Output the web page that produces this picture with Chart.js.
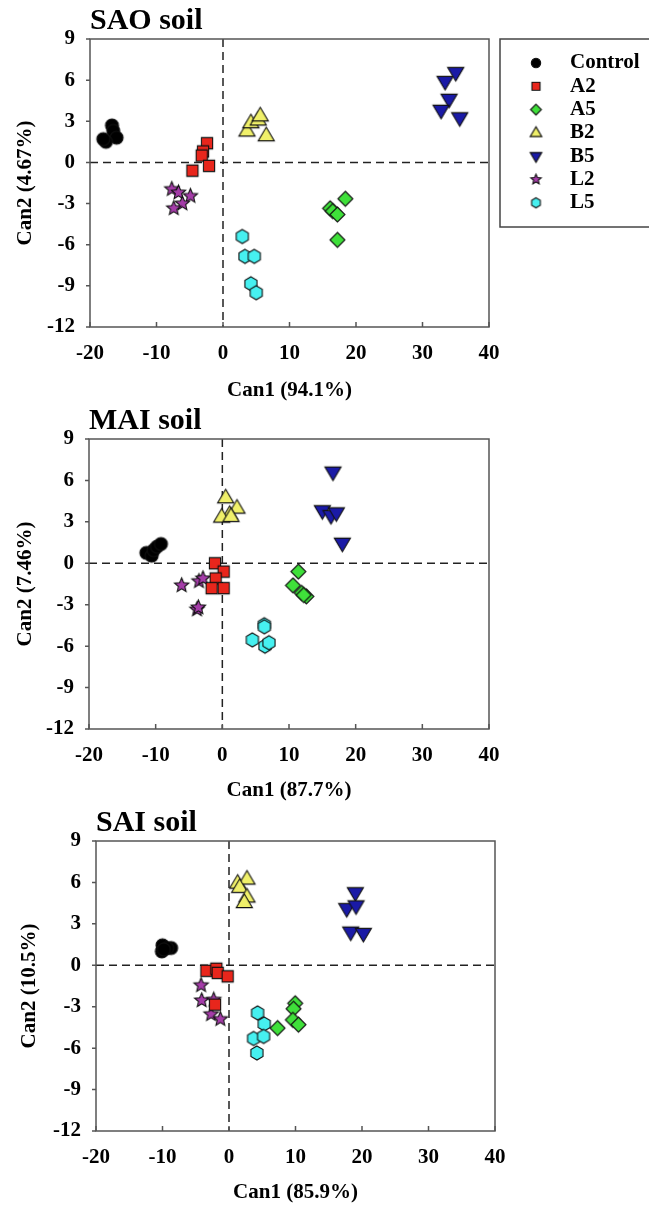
<!DOCTYPE html>
<html>
<head>
<meta charset="utf-8">
<script src="https://cdn.jsdelivr.net/npm/chart.js@4.4.1/dist/chart.umd.min.js"></script>
<style>
  body { margin: 0; background: #fff; width: 649px; height: 1205px; overflow: hidden; position: relative; }
  canvas { position: absolute; left: 0; }
</style>
</head>
<body>
<canvas id="sao" width="649" height="403" style="top:0"></canvas>
<canvas id="mai" width="649" height="400" style="top:403px"></canvas>
<canvas id="sai" width="649" height="402" style="top:803px"></canvas>
<script>
// groups and their marker look
const groups = ['Control', 'A2', 'A5', 'B2', 'B5', 'L2', 'L5'];
const shapes = ['circle', 'square', 'diamond', 'up', 'down', 'star', 'hex'];
const fills = ['#000000', '#e8261c', '#3fe03a', '#f0f06a', '#1a1aa6', '#a43ca8', '#46f0f0'];

// axis ticks
const xTicks = [-20, -10, 0, 10, 20, 30, 40];
const yTicks = [-12, -9, -6, -3, 0, 3, 6, 9];

// SAO soil  [Can1, Can2]
const saoControl = [[-16.7, 2.7], [-16.5, 2.3], [-16.0, 1.8], [-17.6, 1.5], [-18.0, 1.7]];
const saoA2 = [[-2.4, 1.4], [-3.0, 0.8], [-3.2, 0.5], [-2.1, -0.25], [-4.6, -0.6]];
const saoA5 = [[18.4, -2.65], [16.1, -3.35], [16.5, -3.55], [17.2, -3.8], [17.2, -5.65]];
const saoB2 = [[3.6, 2.3], [4.2, 2.9], [5.3, 3.1], [5.6, 3.4], [6.5, 1.95]];
const saoB5 = [[33.4, 5.9], [35.0, 6.55], [34.0, 4.6], [32.8, 3.8], [35.6, 3.25]];
const saoL2 = [[-7.7, -1.95], [-6.7, -2.2], [-4.9, -2.45], [-6.1, -3.0], [-7.4, -3.35]];
const saoL5 = [[2.9, -5.4], [3.3, -6.85], [4.7, -6.85], [4.2, -8.85], [5.0, -9.5]];

// MAI soil
const maiControl = [[-11.4, 0.75], [-10.6, 0.55], [-10.3, 0.95], [-9.8, 1.2], [-9.2, 1.4]];
const maiA2 = [[-1.1, 0.0], [0.2, -0.6], [-1.0, -1.1], [-1.6, -1.8], [0.2, -1.8]];
const maiA5 = [[11.4, -0.6], [10.6, -1.6], [11.9, -2.15], [12.6, -2.4], [12.2, -2.3]];
const maiB2 = [[0.5, 4.75], [2.2, 4.0], [1.1, 3.55], [-0.1, 3.35], [1.3, 3.4]];
const maiB5 = [[16.6, 6.6], [15.0, 3.8], [16.3, 3.45], [17.1, 3.65], [18.0, 1.45]];
const maiL2 = [[-6.1, -1.6], [-3.5, -1.3], [-2.9, -1.1], [-3.8, -3.35], [-3.6, -3.2]];
const maiL5 = [[6.3, -4.45], [6.3, -4.6], [4.5, -5.55], [6.4, -6.0], [7.0, -5.75]];

// SAI soil
const saiControl = [[-10.0, 1.45], [-10.1, 1.0], [-8.7, 1.25], [-9.3, 1.25], [-9.8, 1.15]];
const saiA2 = [[-3.4, -0.4], [-1.9, -0.25], [-1.7, -0.55], [-0.2, -0.8], [-2.1, -2.85]];
const saiA5 = [[9.95, -2.75], [9.7, -3.15], [9.6, -3.95], [10.45, -4.3], [7.3, -4.55]];
const saiB2 = [[1.3, 5.95], [2.7, 6.25], [1.6, 5.65], [2.7, 4.95], [2.3, 4.55]];
const saiB5 = [[19.0, 5.25], [17.7, 4.1], [19.1, 4.3], [18.3, 2.4], [20.2, 2.3]];
const saiL2 = [[-4.2, -1.45], [-4.1, -2.55], [-2.3, -2.5], [-2.7, -3.55], [-1.3, -3.9]];
const saiL5 = [[4.3, -3.45], [5.3, -4.25], [3.7, -5.3], [5.2, -5.15], [4.2, -6.35]];

const FONT = '"Liberation Serif", "Times New Roman", serif';

// small canvas used as point style
function marker(shape, fill, r) {
  const s = Math.ceil(r * 2 + 4);
  const c = document.createElement('canvas');
  c.width = c.height = s;
  const g = c.getContext('2d');
  const cx = s / 2, cy = s / 2;
  g.beginPath();
  if (shape === 'circle') {
    g.arc(cx, cy, r, 0, Math.PI * 2);
  } else if (shape === 'square') {
    const h = r * 0.8;
    g.rect(cx - h, cy - h, 2 * h, 2 * h);
  } else if (shape === 'diamond') {
    g.moveTo(cx, cy - r); g.lineTo(cx + r, cy); g.lineTo(cx, cy + r); g.lineTo(cx - r, cy);
    g.closePath();
  } else if (shape === 'up') {
    g.moveTo(cx, cy - r); g.lineTo(cx + r * 0.95, cy + r * 0.6); g.lineTo(cx - r * 0.95, cy + r * 0.6);
    g.closePath();
  } else if (shape === 'down') {
    g.moveTo(cx, cy + r); g.lineTo(cx + r * 0.95, cy - r * 0.6); g.lineTo(cx - r * 0.95, cy - r * 0.6);
    g.closePath();
  } else if (shape === 'star') {
    for (let i = 0; i < 10; i++) {
      const a = -Math.PI / 2 + i * Math.PI / 5;
      const rr = i % 2 ? r * 0.45 : r;
      g.lineTo(cx + rr * Math.cos(a), cy + rr * Math.sin(a));
    }
    g.closePath();
  } else if (shape === 'hex') {
    for (let i = 0; i < 6; i++) {
      const a = -Math.PI / 2 + i * Math.PI / 3;
      g.lineTo(cx + r * Math.cos(a), cy + r * Math.sin(a));
    }
    g.closePath();
  }
  g.fillStyle = fill;
  g.fill();
  g.lineWidth = 1.1;
  g.strokeStyle = '#111';
  g.stroke();
  return c;
}

const plotSizes = { circle: 6.5, square: 7, diamond: 7.5, up: 8.5, down: 8.5, star: 7.5, hex: 7 };
const plotMarkers = shapes.map((s, i) => marker(s, fills[i], plotSizes[s]));
const legendMarkers = shapes.map((s, i) => marker(s, fills[i], plotSizes[s] * 0.72));

// dashed zero lines, frame and tick marks
const framePlugin = {
  id: 'frame',
  beforeDatasetsDraw(chart) {
    const { ctx, chartArea: a, scales: { x, y } } = chart;
    ctx.save();
    ctx.strokeStyle = '#222';
    ctx.lineWidth = 1.5;
    ctx.setLineDash([8, 5]);
    const x0 = x.getPixelForValue(0), y0 = y.getPixelForValue(0);
    ctx.beginPath();
    ctx.moveTo(x0, a.top); ctx.lineTo(x0, a.bottom);
    ctx.moveTo(a.left, y0); ctx.lineTo(a.right, y0);
    ctx.stroke();
    ctx.setLineDash([]);
    ctx.strokeStyle = '#555';
    ctx.strokeRect(a.left, a.top, a.right - a.left, a.bottom - a.top);
    ctx.beginPath();
    x.ticks.forEach(t => {
      const px = x.getPixelForValue(t.value);
      ctx.moveTo(px, a.bottom); ctx.lineTo(px, a.bottom - 5);
    });
    y.ticks.forEach(t => {
      const py = y.getPixelForValue(t.value);
      ctx.moveTo(a.left - 4, py); ctx.lineTo(a.left, py);
    });
    ctx.stroke();
    ctx.restore();
  }
};

// boxed legend on the right of the first panel
const legendPlugin = {
  id: 'boxLegend',
  afterDraw(chart) {
    const ctx = chart.ctx;
    ctx.save();
    ctx.strokeStyle = '#444';
    ctx.lineWidth = 1.5;
    ctx.strokeRect(500, 39, 170, 188);
    ctx.font = 'bold 21px ' + FONT;
    ctx.fillStyle = '#000';
    ctx.textBaseline = 'middle';
    chart.data.datasets.forEach((ds, i) => {
      const yy = 63 + i * 23.3;
      const m = legendMarkers[i];
      ctx.drawImage(m, 536 - m.width / 2, yy - m.height / 2);
      ctx.fillText(ds.label, 570, yy);
    });
    ctx.restore();
  }
};

function makeChart(id, title, series, xTitle, yTitle, lay, withLegend) {
  const datasets = groups.map((g, i) => ({
    label: g,
    data: series[i].map(p => ({ x: p[0], y: p[1] })),
    pointStyle: plotMarkers[i],
    backgroundColor: fills[i],
    borderColor: '#111'
  }));
  const tickFont = { family: FONT, size: 21, weight: 'bold' };
  const titleFont = { family: FONT, size: 21, weight: 'bold' };
  return new Chart(document.getElementById(id), {
    type: 'scatter',
    data: { datasets },
    plugins: withLegend ? [framePlugin, legendPlugin] : [framePlugin],
    options: {
      responsive: false,
      animation: false,
      events: [],
      devicePixelRatio: 1,
      layout: { padding: { left: 0, right: lay.right, top: 0, bottom: 0 } },
      plugins: {
        legend: { display: false },
        tooltip: { enabled: false },
        title: {
          display: true, text: title, align: 'start', fullSize: false, color: '#000',
          font: { family: FONT, size: 30, weight: 'bold', lineHeight: 1.2 },
          padding: { top: lay.titleTop, bottom: 0 }
        }
      },
      scales: {
        x: {
          type: 'linear', min: -20, max: 40,
          afterBuildTicks: s => { s.ticks = xTicks.map(v => ({ value: v })); },
          ticks: { font: tickFont, color: '#000', padding: 14, maxRotation: 0 },
          grid: { display: false, drawTicks: false },
          border: { display: false },
          title: { display: true, text: xTitle, font: titleFont, color: '#000', padding: { top: 0, bottom: lay.xPad } },
          afterFit: s => { s.height = lay.xH; }
        },
        y: {
          type: 'linear', min: -12, max: 9,
          afterBuildTicks: s => { s.ticks = yTicks.map(v => ({ value: v })); },
          ticks: { font: tickFont, color: '#000', padding: 15 },
          grid: { display: false, drawTicks: false },
          border: { display: false },
          title: { display: true, text: yTitle, font: titleFont, color: '#000', padding: { top: lay.yPad, bottom: 0 } },
          afterFit: s => { s.width = lay.yW; }
        }
      }
    }
  });
}

makeChart('sao', 'SAO soil',
  [saoControl, saoA2, saoA5, saoB2, saoB5, saoL2, saoL5],
  'Can1 (94.1%)', 'Can2 (4.67%)',
  { right: 160, titleTop: 3, xH: 76, xPad: 0, yW: 90, yPad: 13 }, true);

makeChart('mai', 'MAI soil',
  [maiControl, maiA2, maiA5, maiB2, maiB5, maiL2, maiL5],
  'Can1 (87.7%)', 'Can2 (7.46%)',
  { right: 160, titleTop: 0, xH: 74, xPad: 0, yW: 89, yPad: 13 }, false);

makeChart('sai', 'SAI soil',
  [saiControl, saiA2, saiA5, saiB2, saiB5, saiL2, saiL5],
  'Can1 (85.9%)', 'Can2 (10.5%)',
  { right: 154, titleTop: 2, xH: 74, xPad: 0, yW: 96, yPad: 17 }, false);
</script>
</body>
</html>
